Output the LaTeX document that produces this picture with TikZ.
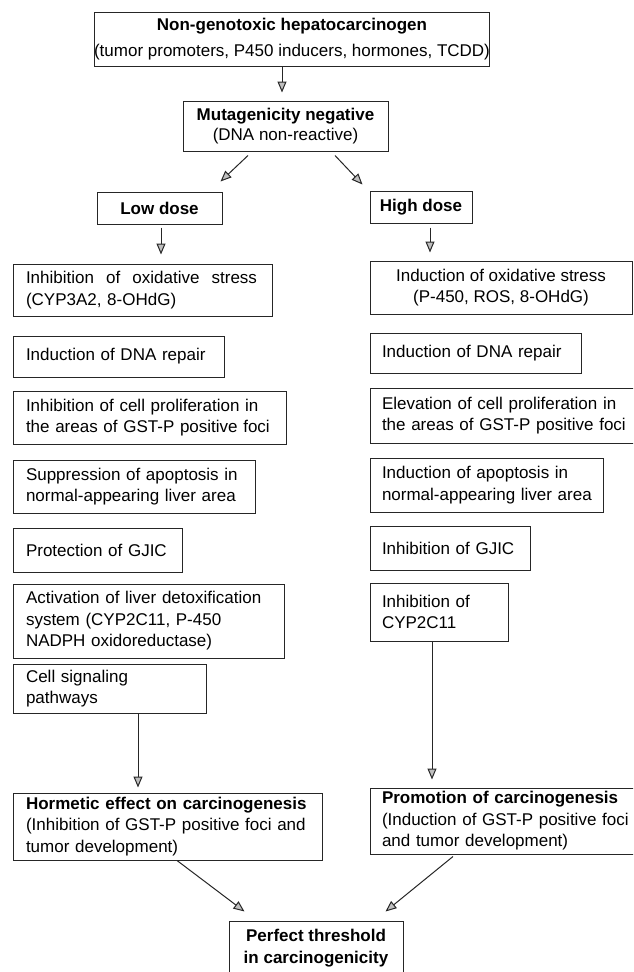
\documentclass[tikz,border=0pt]{standalone}
\usepackage{fontspec}
\setmainfont{Liberation Sans}
\usetikzlibrary{arrows.meta,calc}
\begin{document}
\begin{tikzpicture}[x=1pt,y=-1pt,
  box/.style={draw=black!85, line width=1pt, inner sep=0pt,
    font=\fontsize{17}{21.5}\selectfont, text=black},
  lbox/.style={box, align=left, inner xsep=13pt},
  rbox/.style={box, align=left, inner xsep=12pt},
  cbox/.style={box, align=center},
  arr/.style={draw=black!85, line width=1pt,
    -{Triangle[length=11pt,width=9pt,fill=gray!50]}}]
\useasboundingbox (0,0) rectangle (633,972);
\clip (0,0) rectangle (633,972);

% top part
\node[cbox, minimum width=384pt, minimum height=54pt] (top) at (292,39)
  {\textbf{Non-genotoxic hepatocarcinogen}\\[4pt](tumor promoters, P450 inducers, hormones, TCDD)};
\node[cbox, minimum width=205pt, minimum height=50pt] (mut) at (285.5,126)
  {\textbf{Mutagenicity negative}\\[-1pt](DNA non-reactive)};
\node[cbox, minimum width=125pt, minimum height=32pt] (low) at (159.5,208) {\textbf{Low dose}};
\node[cbox, minimum width=102pt, minimum height=32pt] (high) at (421,207) {\textbf{High dose}};

% left column
\node[lbox, text width=233pt, minimum height=52pt] (l1) at (142.5,290)
  {\hbox to 231pt{Inhibition\hfill of\hfill oxidative\hfill stress}\\(CYP3A2, 8-OHdG)};
\node[lbox, text width=185pt, minimum height=41pt] (l2) at (118.5,356.5) {Induction of DNA repair};
\node[lbox, text width=247pt, minimum height=53pt] (l3) at (149.5,417.5)
  {Inhibition of cell proliferation in\\the areas of GST-P positive foci};
\node[lbox, text width=216pt, minimum height=53pt] (l4) at (134,486.5)
  {Suppression of apoptosis in\\\mbox{normal-appearing liver area}};
\node[lbox, text width=143pt, minimum height=44pt] (l5) at (97.5,550) {Protection of GJIC};
\node[lbox, text width=245pt, minimum height=74pt] (l6) at (148.5,621)
  {Activation of liver detoxification\\system (CYP2C11, P-450\\NADPH oxidoreductase)};
\node[lbox, text width=167pt, minimum height=49pt] (l7) at (109.5,688.5)
  {Cell signaling\\pathways};
\node[lbox, text width=283pt, minimum height=67pt] (horm) at (167.5,826.5)
  {\textbf{Hormetic effect on carcinogenesis}\\(Inhibition of GST-P positive foci and\\tumor development)};

% right column
\node[cbox, minimum width=262pt, minimum height=53pt] (r1) at (501,287.5)
  {Induction of oxidative stress\\(P-450, ROS, 8-OHdG)};
\node[rbox, text width=187pt, minimum height=40pt] (r2) at (475.5,353) {Induction of DNA repair};
\node[rbox, text width=251pt, minimum height=55pt] (r3) at (507.5,415.5)
  {Elevation of cell proliferation in\\the areas of GST-P positive foci};
\node[rbox, text width=209pt, minimum height=54pt] (r4) at (486.5,485)
  {Induction of apoptosis in\\\mbox{normal-appearing liver area}};
\node[rbox, text width=136pt, minimum height=44pt] (r5) at (450,548) {Inhibition of GJIC};
\node[rbox, text width=114pt, minimum height=58pt] (r6) at (439,612)
  {Inhibition of\\CYP2C11};
\node[rbox, text width=251pt, minimum height=66pt] (prom) at (507.5,821)
  {\textbf{Promotion of carcinogenesis}\\(Induction of GST-P positive foci\\and tumor development)};

% bottom
\node[cbox, minimum width=174pt, minimum height=54pt] (perf) at (316,948)
  {\textbf{Perfect threshold}\\\textbf{in carcinogenicity}};

% connectors
\draw[arr] ($(top.south)+(-10,0)$) -- ($(mut.north)+(-3.5,-8)$);
\draw[arr] ($(mut.south)+(-37.5,4)$) -- ($(low.north east)+(-2,-10)$);
\draw[arr] ($(mut.south)+(49.5,4)$) -- ($(high.north west)+(-7,-6)$);
\draw[arr] ($(low.south)+(1.5,3)$) -- ($(l1.north)+(18.5,-9)$);
\draw[arr] ($(high.south)+(9,4)$) -- ($(r1.north)+(-71,-8)$);
\draw[arr] ($(l7.south)+(28.5,0)$) -- ($(horm.north)+(-29.5,-5)$);
\draw[arr] ($(r6.south)+(-7,0)$) -- ($(prom.north)+(-75.5,-8)$);
\draw[arr] ($(horm.south)+(9.5,0)$) -- ($(perf.north west)+(16,-9)$);
\draw[arr] ($(prom.south)+(-54.5,2)$) -- ($(perf.north east)+(-18,-9)$);
\end{tikzpicture}
\end{document}
